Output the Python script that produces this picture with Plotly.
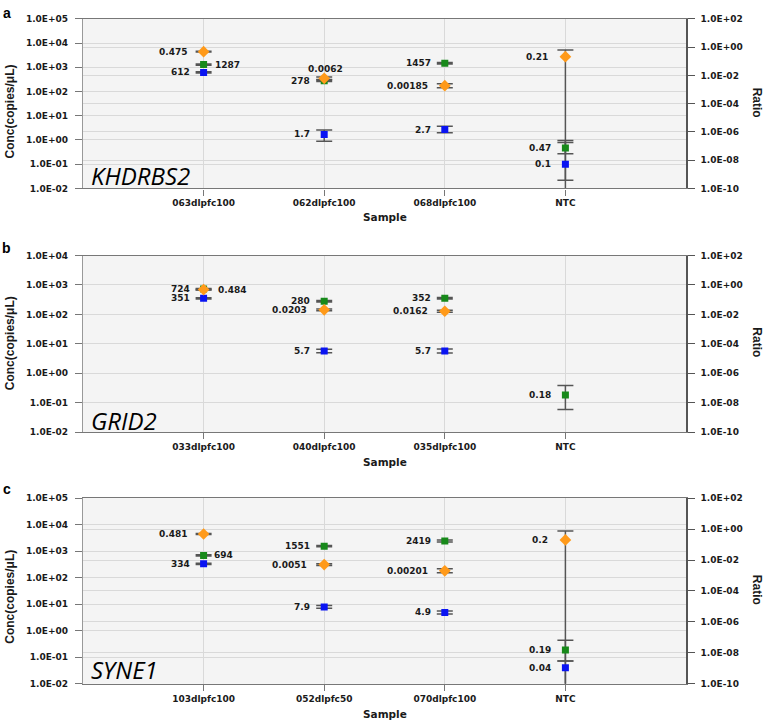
import numpy as np
import plotly.graph_objects as go

W, H = 767, 728

# ---------------- data ----------------
genes = ["KHDRBS2", "GRID2", "SYNE1"]
panel_letters = ["a", "b", "c"]

samples_a = ["063dlpfc100", "062dlpfc100", "068dlpfc100", "NTC"]
green_a = [1287, 278, 1457, 0.47]
green_a_hi = [1360, 300, 1560, 0.96]
green_a_lo = [1220, 258, 1360, 0.27]
blue_a = [612, 1.7, 2.7, 0.1]
blue_a_hi = [650, 2.6, 3.7, 0.79]
blue_a_lo = [578, 0.89, 2.0, 0.022]
ratio_a = [0.475, 0.0062, 0.00185, 0.21]
ratio_a_hi = [0.51, 0.0076, 0.0025, 0.62]
ratio_a_lo = [0.44, 0.0051, 0.00135, 1e-14]

samples_b = ["033dlpfc100", "040dlpfc100", "035dlpfc100", "NTC"]
green_b = [724, 280, 352, 0.18]
green_b_hi = [760, 296, 372, 0.38]
green_b_lo = [690, 265, 333, 0.058]
blue_b = [351, 5.7, 5.7, None]
blue_b_hi = [370, 6.5, 6.6, None]
blue_b_lo = [333, 5.0, 4.9, None]
ratio_b = [0.484, 0.0203, 0.0162, None]
ratio_b_hi = [0.51, 0.0235, 0.0190, None]
ratio_b_lo = [0.46, 0.0175, 0.0138, None]

samples_c = ["103dlpfc100", "052dlpfc50", "070dlpfc100", "NTC"]
green_c = [694, 1551, 2419, 0.19]
green_c_hi = [730, 1630, 2660, 0.44]
green_c_lo = [660, 1475, 2200, 0.072]
blue_c = [334, 7.9, 4.9, 0.04]
blue_c_hi = [352, 8.9, 5.6, 0.072]
blue_c_lo = [317, 7.0, 4.3, 1e-6]
ratio_c = [0.481, 0.0051, 0.00201, 0.2]
ratio_c_hi = [0.51, 0.0058, 0.0027, 0.76]
ratio_c_lo = [0.45, 0.0045, 0.0015, 1e-14]

# labels: text for each point (orange label = ratio, squares = concentration)
green_lbl_a = ["1287", "278", "1457", "0.47"]
blue_lbl_a = ["612", "1.7", "2.7", "0.1"]
ratio_lbl_a = ["0.475", "0.0062", "0.00185", "0.21"]
green_lbl_b = ["724", "280", "352", "0.18"]
blue_lbl_b = ["351", "5.7", "5.7", None]
ratio_lbl_b = ["0.484", "0.0203", "0.0162", None]
green_lbl_c = ["694", "1551", "2419", "0.19"]
blue_lbl_c = ["334", "7.9", "4.9", "0.04"]
ratio_lbl_c = ["0.481", "0.0051", "0.00201", "0.2"]

conc_ticks_7 = [1e-2, 1e-1, 1e0, 1e1, 1e2, 1e3, 1e4, 1e5]
conc_text_7 = ["1.0E-02", "1.0E-01", "1.0E+00", "1.0E+01", "1.0E+02", "1.0E+03", "1.0E+04", "1.0E+05"]
conc_ticks_6 = [1e-2, 1e-1, 1e0, 1e1, 1e2, 1e3, 1e4]
conc_text_6 = ["1.0E-02", "1.0E-01", "1.0E+00", "1.0E+01", "1.0E+02", "1.0E+03", "1.0E+04"]
ratio_ticks = [1e-10, 1e-8, 1e-6, 1e-4, 1e-2, 1e0, 1e2]
ratio_text = ["1.0E-10", "1.0E-08", "1.0E-06", "1.0E-04", "1.0E-02", "1.0E+00", "1.0E+02"]

panels = [
    dict(samples=samples_a, green=(green_a, green_a_hi, green_a_lo), blue=(blue_a, blue_a_hi, blue_a_lo),
         ratio=(ratio_a, ratio_a_hi, ratio_a_lo), glbl=green_lbl_a, blbl=blue_lbl_a, rlbl=ratio_lbl_a,
         cticks=conc_ticks_7, ctext=conc_text_7),
    dict(samples=samples_b, green=(green_b, green_b_hi, green_b_lo), blue=(blue_b, blue_b_hi, blue_b_lo),
         ratio=(ratio_b, ratio_b_hi, ratio_b_lo), glbl=green_lbl_b, blbl=blue_lbl_b, rlbl=ratio_lbl_b,
         cticks=conc_ticks_6, ctext=conc_text_6),
    dict(samples=samples_c, green=(green_c, green_c_hi, green_c_lo), blue=(blue_c, blue_c_hi, blue_c_lo),
         ratio=(ratio_c, ratio_c_hi, ratio_c_lo), glbl=green_lbl_c, blbl=blue_lbl_c, rlbl=ratio_lbl_c,
         cticks=conc_ticks_7, ctext=conc_text_7),
]

# ---------------- styles / layout ----------------
ORANGE = "#FF9A1A"
GREEN = "#17891A"
BLUE = "#0A14F2"
ERRC = "#555555"
GRID = "#d9d9d9"
TXT = "#1a1a1a"
TICKFONT = dict(family="DejaVu Sans", size=9, color=TXT, weight="bold")
LBLFONT = dict(family="DejaVu Sans", size=9, color=TXT, weight="bold")

# plot-area pixel boxes (top, bottom) for each panel
ybox = [(14, 186), (254, 433), (500, 688.3)]
xbox = (83, 686)
# label placement overrides: (panel, series, index) -> (xanchor, xshift, yshift)
label_override = {
    (0, "g", 0): ("left", 9, 0),
    (0, "r", 1): ("center", 1, 9),
    (1, "r", 0): ("left", 12, 0),
    (2, "g", 0): ("left", 8, 0),
}
title_y = [108, 343, 600]
ratio_title_y = [99, 342, 593]
sample_y = [215, 463, 719]
letter_y = [8.5, 246, 491]
gene_y = [173, 421, 674]


def px(x):
    return x / W


def py(y):
    return 1 - y / H


def errs(v, hi, lo):
    plus = [0 if a is None else h - a for a, h in zip(v, hi)]
    minus = [0 if a is None else a - l for a, l in zip(v, lo)]
    return plus, minus


fig = go.Figure()
layout = {}
annotations = []

for p, P in enumerate(panels):
    n = 3 * p
    xname = "x" if p == 0 else f"x{p + 1}"
    yR = "y" if p == 0 else f"y{n + 1}"
    yL = f"y{n + 2}"
    yM = f"y{n + 3}"
    xkey = "xaxis" if p == 0 else f"xaxis{p + 1}"
    top, bot = ybox[p]
    ydom = [py(bot), py(top)]
    xdom = [px(xbox[0]), px(xbox[1])]
    S = P["samples"]

    # orange error bars (bottom layer, ratio axis)
    rv, rhi, rlo = P["ratio"]
    rp, rm = errs(rv, rhi, rlo)
    fig.add_trace(go.Scatter(x=S, y=rv, xaxis=xname, yaxis=yR, mode="markers",
                             marker=dict(size=1, opacity=0), cliponaxis=True, showlegend=False,
                             error_y=dict(type="data", symmetric=False, array=rp, arrayminus=rm,
                                          color=ERRC, thickness=1.5, width=8)))
    # green & blue squares (conc axis)
    for key, col in (("blue", BLUE), ("green", GREEN)):
        v, hi, lo = P[key]
        ep, em = errs(v, hi, lo)
        fig.add_trace(go.Scatter(x=S, y=v, xaxis=xname, yaxis=yL, mode="markers",
                                 marker=dict(symbol="square", size=7, color=col), showlegend=False,
                                 error_y=dict(type="data", symmetric=False, array=ep, arrayminus=em,
                                              color=ERRC, thickness=1.5, width=8)))
    # orange diamonds (top layer, same scale as ratio axis)
    fig.add_trace(go.Scatter(x=S, y=rv, xaxis=xname, yaxis=yM, mode="markers",
                             marker=dict(symbol="diamond", size=9, color=ORANGE), showlegend=False))

    layout[xkey] = dict(domain=xdom, anchor=yR, type="category", categoryorder="array",
                        categoryarray=S, range=[-1, 4], showgrid=True, gridcolor=GRID,
                        showline=True, linecolor="#777", linewidth=1.2, mirror=True,
                        ticks="outside", ticklen=6, tickcolor="#777", tickfont=TICKFONT,
                        zeroline=False, fixedrange=True)
    layout["yaxis" if p == 0 else f"yaxis{n + 1}"] = dict(
        domain=ydom, anchor=xname, side="right", type="log", range=[-10, 2],
        tickvals=ratio_ticks, ticktext=ratio_text, showgrid=True, gridcolor=GRID,
        showline=True, linecolor="#555", linewidth=1.5, ticks="outside", ticklen=7,
        tickcolor="#555", tickfont=TICKFONT, ticklabelstandoff=4, zeroline=False)
    layout[f"yaxis{n + 2}"] = dict(
        overlaying=yR, anchor=xname, side="left", type="log",
        range=[-2, np.log10(P["cticks"][-1])], tickvals=P["cticks"], ticktext=P["ctext"],
        showgrid=True, gridcolor=GRID, showline=True, linecolor="#999", linewidth=1.2,
        ticks="outside", ticklen=7, tickcolor="#777", tickfont=TICKFONT,
        ticklabelstandoff=5, zeroline=False)
    layout[f"yaxis{n + 3}"] = dict(overlaying=yR, anchor=xname, type="log", range=[-10, 2],
                                   visible=False, showgrid=False)

    # point labels
    for series, ax, lbls, vals in (("g", yL, P["glbl"], P["green"][0]),
                                   ("b", yL, P["blbl"], P["blue"][0]),
                                   ("r", yR, P["rlbl"], rv)):
        for i, (t, v) in enumerate(zip(lbls, vals)):
            if t is None or v is None:
                continue
            xa, xs, ys = label_override.get((p, series, i),
                                            ("right", -15 if series == "r" else -12, 0))
            annotations.append(dict(x=S[i], y=np.log10(v), xref=xname, yref=ax, text=t,
                                    showarrow=False, xanchor=xa, yanchor="middle",
                                    xshift=xs, yshift=ys, font=LBLFONT))

    # titles and decorations
    annotations.append(dict(x=px(10), y=py(title_y[p]), xref="paper", yref="paper",
                            text="Conc(copies/μL)", textangle=-90, showarrow=False,
                            xanchor="center", yanchor="middle",
                            font=dict(family="Liberation Sans", size=12, color=TXT, weight="bold")))
    annotations.append(dict(x=px(757), y=py(ratio_title_y[p]), xref="paper", yref="paper",
                            text="Ratio", textangle=90, showarrow=False,
                            xanchor="center", yanchor="middle",
                            font=dict(family="Liberation Sans", size=12, color=TXT, weight="bold")))
    annotations.append(dict(x=px(385), y=py(sample_y[p]), xref="paper", yref="paper",
                            text="Sample", showarrow=False, xanchor="center", yanchor="middle",
                            font=dict(family="DejaVu Sans", size=10.5, color=TXT, weight="bold")))
    annotations.append(dict(x=px(6.5), y=py(letter_y[p]), xref="paper", yref="paper",
                            text=panel_letters[p], showarrow=False, xanchor="center",
                            yanchor="middle",
                            font=dict(family="Liberation Sans", size=14, color="#000", weight="bold")))
    annotations.append(dict(x=px(89), y=py(gene_y[p]), xref="paper", yref="paper",
                            text=f"<i>{genes[p]}</i>", showarrow=False, xanchor="left",
                            yanchor="middle",
                            font=dict(family="Open Sans", size=24, color="#000")))

fig.update_layout(**layout)
fig.update_layout(width=W, height=H, autosize=False, margin=dict(l=0, r=0, t=0, b=0),
                  paper_bgcolor="white", plot_bgcolor="#f4f4f4", showlegend=False,
                  annotations=annotations)

fig.write_html("out.html", config={"displayModeBar": False},
               post_script="document.body.style.margin='0px';document.body.style.overflow='hidden';")
